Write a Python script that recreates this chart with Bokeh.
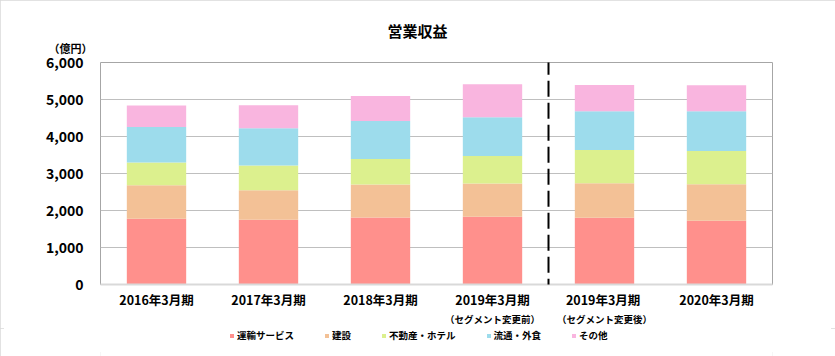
from bokeh.plotting import figure
from bokeh.layouts import column
from bokeh.models import (ColumnDataSource, Arrow, NumeralTickFormatter, Title,
                          SingleIntervalTicker, FactorRange, CategoricalAxis)
from bokeh.embed import file_html
from bokeh.resources import INLINE

# ---- data (億円) ----
# (the second 2019 label carries a trailing space only to keep factors unique)
periods = ["2016年3月期", "2017年3月期", "2018年3月期",
           "2019年3月期", "2019年3月期 ", "2020年3月期"]
period_notes = [" ", "  ", "   ", "（セグメント変更前）", "（セグメント変更後）", "    "]
segments = ["運輸サービス", "建設", "不動産・ホテル", "流通・外食", "その他"]
transport = [1780, 1750, 1810, 1830, 1805, 1725]
construction = [900, 800, 895, 900, 930, 982]
realestate = [620, 665, 690, 744, 903, 902]
retail = [955, 1010, 1027, 1043, 1044, 1071]
other = [585, 620, 672, 895, 708, 708]
colors = ["#FF908C", "#F3C196", "#DCF08E", "#9DDCEC", "#F9B5DF"]
y_ticks_interval = 1000
segment_change_after = 4  # number of periods before the segment change

FONT = "Noto Sans CJK JP"

keys = ["s0", "s1", "s2", "s3", "s4"]
src = ColumnDataSource(dict(period=periods, s0=transport, s1=construction,
                            s2=realestate, s3=retail, s4=other))

p = figure(width=835, height=328, x_range=FactorRange(*periods, range_padding=0),
           y_range=(0, 6000), output_backend="svg", toolbar_location=None,
           title=None,
           min_border_left=100, min_border_right=63, min_border_top=62,
           min_border_bottom=40)

p.vbar_stack(keys, x="period", width=0.53, source=src, color=colors, line_color=None)

# frame and grid
p.outline_line_color = "#A6A6A6"
p.outline_line_width = 1
p.xgrid.grid_line_color = None
p.ygrid.grid_line_color = "#BFBFBF"
p.ygrid.grid_line_width = 1

# y axis
p.yaxis.ticker = SingleIntervalTicker(interval=y_ticks_interval, num_minor_ticks=0)
p.yaxis.formatter = NumeralTickFormatter(format="0,0")
p.yaxis.axis_line_color = None
p.yaxis.major_tick_line_color = None
p.yaxis.minor_tick_line_color = None
p.yaxis.major_tick_out = 0
p.yaxis.major_tick_in = 0
p.yaxis.major_label_standoff = 17
p.yaxis.major_label_text_font = FONT
p.yaxis.major_label_text_font_style = "bold"
p.yaxis.major_label_text_font_size = "14px"
p.yaxis.major_label_text_color = "#000000"

# x axis
p.xaxis.axis_line_color = "#D9D9D9"
p.xaxis.axis_line_width = 2
p.xaxis.major_tick_line_color = None
p.xaxis.major_tick_out = 0
p.xaxis.major_tick_in = 0
p.xaxis.major_label_standoff = 5
p.xaxis.major_label_text_font = FONT
p.xaxis.major_label_text_font_style = "bold"
p.xaxis.major_label_text_font_size = "12.5px"
p.xaxis.major_label_text_color = "#000000"

# second row of category labels (notes under the 2019 labels)
p.extra_x_ranges = {"notes": FactorRange(*period_notes, range_padding=0)}
notes_axis = CategoricalAxis(x_range_name="notes")
notes_axis.axis_line_color = None
notes_axis.major_tick_line_color = None
notes_axis.major_tick_out = 0
notes_axis.major_tick_in = 0
notes_axis.major_label_standoff = 0
notes_axis.major_label_text_font = FONT
notes_axis.major_label_text_font_style = "bold"
notes_axis.major_label_text_font_size = "9.5px"
notes_axis.major_label_text_color = "#000000"
p.add_layout(notes_axis, "below")

# unit label and title (first added sits closest to the frame)
p.add_layout(Title(text="（億円）", align="left", offset=-52, standoff=14,
                   text_font=FONT, text_font_style="bold", text_font_size="11px",
                   text_color="#000000"), "above")
p.add_layout(Title(text="営業収益", align="left", offset=287, standoff=-20,
                   text_font=FONT, text_font_style="bold", text_font_size="15px",
                   text_color="#000000"), "above")

# dashed divider for the segment change
p.add_layout(Arrow(end=None, x_start=segment_change_after, x_end=segment_change_after,
                   y_start=-870, y_end=6560, line_color="#000000", line_width=2,
                   line_dash="16 6"))

# legend strip (own small figure so the legend is not clipped by the chart frame);
# its y range lies far above every bar, so only the legend shows
pl = figure(width=835, height=28, x_range=FactorRange(*periods, range_padding=0),
            y_range=(1e6, 1e6 + 1), output_backend="svg", toolbar_location=None,
            title=None, x_axis_location=None, y_axis_location=None, min_border=0)
pl.grid.visible = False
pl.outline_line_color = None
pl.vbar_stack(keys, x="period", width=0.53, source=src, color=colors,
              line_color=None, legend_label=segments)
lg = pl.legend[0]
lg.orientation = "horizontal"
lg.location = (129, 14)
lg.border_line_color = None
lg.background_fill_alpha = 0
lg.padding = 0
lg.margin = 0
lg.spacing = 30
lg.glyph_width = 5
lg.glyph_height = 5
lg.label_standoff = 3
lg.label_height = 12
lg.label_width = 10
lg.label_text_font = FONT
lg.label_text_font_style = "bold"
lg.label_text_font_size = "9.5px"
lg.label_text_color = "#000000"
lg.label_text_baseline = "middle"

layout = column(p, pl, spacing=0)
layout.styles = {"outline": "4px solid #D9D9D9", "outline-offset": "-4px"}

open("out.html", "w").write(file_html(layout, INLINE))
